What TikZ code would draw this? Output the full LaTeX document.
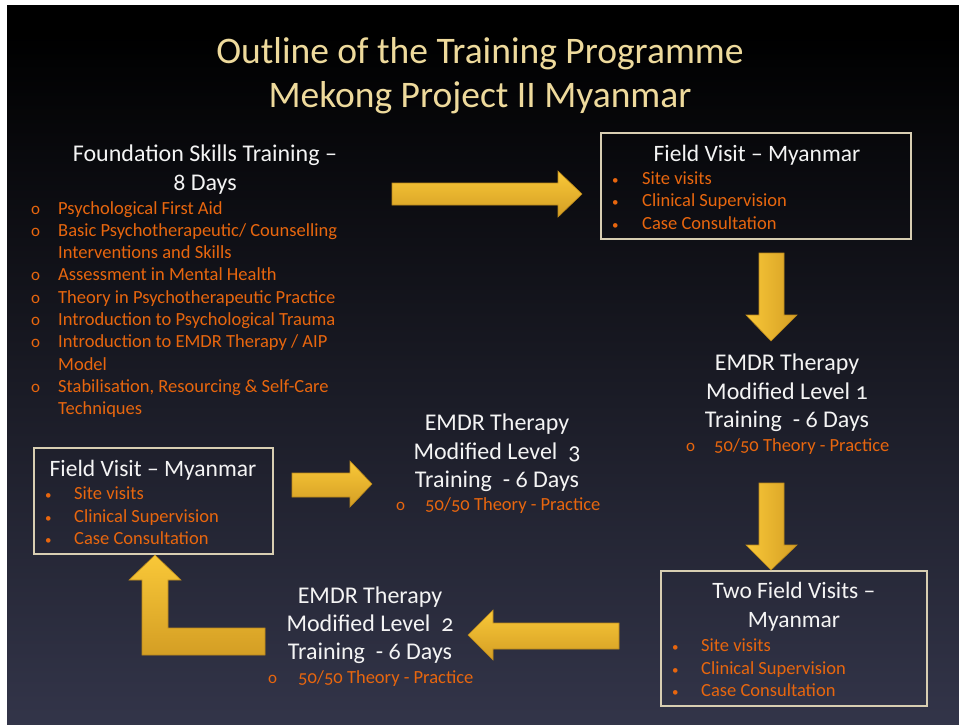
\documentclass[tikz,border=0pt]{standalone}
\usepackage{fontspec}
\setmainfont{Carlito}[Numbers=OldStyle]
\definecolor{titlegold}{RGB}{238,218,156}
\definecolor{headwhite}{RGB}{244,244,244}
\definecolor{itemorange}{RGB}{232,102,14}
\definecolor{framecol}{RGB}{216,206,178}
\definecolor{goldlight}{RGB}{249,200,56}
\definecolor{golddark}{RGB}{212,158,36}
\definecolor{goldedge}{RGB}{186,136,28}
\definecolor{bgbottom}{RGB}{77,80,111}
\pgfdeclareverticalshading{slidebg}{100bp}{color(0bp)=(bgbottom); color(73bp)=(black); color(100bp)=(black)}
\tikzset{
  titletxt/.style={inner sep=0pt, anchor=base, text=titlegold, font=\fontsize{37.5}{45}\selectfont},
  headtxt/.style={inner sep=0pt, anchor=base, text=headwhite, font=\fontsize{24}{28}\selectfont},
  itemtxt/.style={inner sep=0pt, anchor=base west, text=itemorange, font=\fontsize{18.5}{22}\selectfont},
  obul/.style={inner sep=0pt, anchor=base west, text=itemorange, font=\fontsize{17}{20}\selectfont},
  dbul/.style={inner sep=0pt, anchor=base west, text=itemorange, font=\fontsize{13}{16}\selectfont},
  framebox/.style={draw=framecol, line width=1.1pt, inner sep=0pt},
  harrow/.style={top color=goldlight, bottom color=golddark, draw=goldedge, line width=0.6pt},
  varrow/.style={left color=goldlight, right color=golddark, draw=goldedge, line width=0.6pt}
}
\begin{document}
\begin{tikzpicture}[x=1pt,y=-1pt]
\useasboundingbox (0,0) rectangle (959,724);
\fill[white] (0,0) rectangle (959,724);
\shade[shading=slidebg] (7,5) rectangle (959,724);

% title
\node[titletxt] (t1) at (480,63) {Outline of the Training Programme};
\node[titletxt] (t2) at (480,107) {Mekong Project II Myanmar};

% foundation block
\node[headtxt] (f1) at (205,161) {Foundation Skills Training –};
\node[headtxt] (f2) at (205,190) {8 Days};
\foreach \yy/\tx [count=\i] in {214/{Psychological First Aid},
  236/{Basic Psychotherapeutic/ Counselling},
  280/{Assessment in Mental Health},
  303/{Theory in Psychotherapeutic Practice},
  325/{Introduction to Psychological Trauma},
  347/{Introduction to EMDR Therapy / AIP},
  392/{Stabilisation, Resourcing \& Self-Care}}{
  \node[obul] (fb\i) at (31,\yy) {o};
  \node[itemtxt] (fi\i) at (58,\yy) {\tx};
}
\node[itemtxt] (fc1) at (58,258) {Interventions and Skills};
\node[itemtxt] (fc2) at (58,370) {Model};
\node[itemtxt] (fc3) at (58,414) {Techniques};

% field visit box (top right)
\node[framebox, minimum width=310pt, minimum height=106pt] (fvA) at (756,186) {};
\node[headtxt, font=\fontsize{23.5}{28}\selectfont] (fvAt) at (757,161) {Field Visit – Myanmar};
\foreach \yy/\tx [count=\i] in {184/{Site visits}, 206/{Clinical Supervision}, 229/{Case Consultation}}{
  \node[dbul] (fvAb\i) at (612,\yy) {•};
  \node[itemtxt] (fvAi\i) at (642,\yy) {\tx};
}

% EMDR level 1
\node[headtxt] (e1a) at (787,370) {EMDR Therapy};
\node[headtxt] (e1b) at (787,399) {Modified Level 1};
\node[headtxt] (e1c) at (787,427) {Training\ \ - 6 Days};
\node[obul] (e1o) at (686,451) {o};
\node[itemtxt] (e1i) at (714,451) {50/50 Theory - Practice};

% two field visits box
\node[framebox, minimum width=266pt, minimum height=135pt] (fvB) at (794,638.5) {};
\node[headtxt, font=\fontsize{23.5}{28}\selectfont] (fvBt1) at (794,598) {Two Field Visits –};
\node[headtxt, font=\fontsize{23.5}{28}\selectfont] (fvBt2) at (794,627) {Myanmar};
\foreach \yy/\tx [count=\i] in {651/{Site visits}, 674/{Clinical Supervision}, 696/{Case Consultation}}{
  \node[dbul] (fvBb\i) at (672,\yy) {•};
  \node[itemtxt] (fvBi\i) at (701,\yy) {\tx};
}

% EMDR level 2
\node[headtxt] (e2a) at (370,603) {EMDR Therapy};
\node[headtxt] (e2b) at (370,631) {Modified Level\ \ 2};
\node[headtxt] (e2c) at (370,659) {Training\ \ - 6 Days};
\node[obul] (e2o) at (268,683) {o};
\node[itemtxt] (e2i) at (298,683) {50/50 Theory - Practice};

% field visit box (left)
\node[framebox, minimum width=239pt, minimum height=106pt] (fvC) at (153.5,501) {};
\node[headtxt, font=\fontsize{23.5}{28}\selectfont] (fvCt) at (153,476) {Field Visit – Myanmar};
\foreach \yy/\tx [count=\i] in {499/{Site visits}, 522/{Clinical Supervision}, 544/{Case Consultation}}{
  \node[dbul] (fvCb\i) at (45,\yy) {•};
  \node[itemtxt] (fvCi\i) at (74,\yy) {\tx};
}

% EMDR level 3
\node[headtxt] (e3a) at (497,430) {EMDR Therapy};
\node[headtxt] (e3b) at (497,459) {Modified Level\ \ 3};
\node[headtxt] (e3c) at (497,487) {Training\ \ - 6 Days};
\node[obul] (e3o) at (396,510) {o};
\node[itemtxt] (e3i) at (425,510) {50/50 Theory - Practice};

% block arrows
\path[harrow] (392,183) -- (558,183) -- (558,171) -- (582,194) -- (558,217) -- (558,205) -- (392,205) -- cycle;
\path[varrow] (759,253) -- (784,253) -- (784,315) -- (797,315) -- (771,341) -- (746,315) -- (759,315) -- cycle;
\path[varrow] (759,483) -- (784,483) -- (784,545) -- (797,545) -- (771,570) -- (746,545) -- (759,545) -- cycle;
\path[harrow] (619,623) -- (493,623) -- (493,610) -- (468,635) -- (493,660) -- (493,649) -- (619,649) -- cycle;
\path[harrow] (265,628) -- (265,655) -- (142,655) -- (142,580) -- (129,580) -- (155,555) -- (181,580) -- (168,580) -- (168,628) -- cycle;
\path[harrow] (292,473) -- (350,473) -- (350,461) -- (372,484) -- (350,507) -- (350,497) -- (292,497) -- cycle;
\end{tikzpicture}
\end{document}
